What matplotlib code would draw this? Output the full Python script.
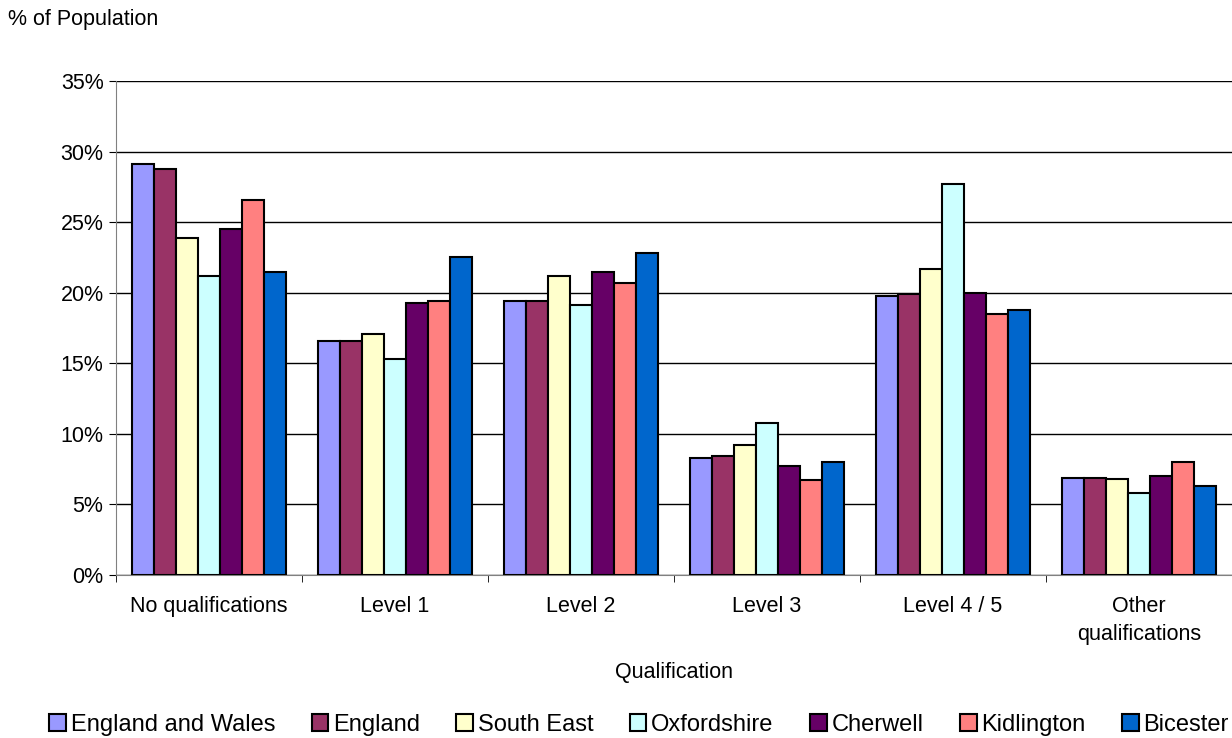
import numpy as np
import matplotlib
matplotlib.use('Agg')
from matplotlib import pyplot as plt
from matplotlib.ticker import FixedLocator, PercentFormatter

plt.rcParams['font.family'] = ['Liberation Sans', 'DejaVu Sans']

categories = ['No qualifications', 'Level 1', 'Level 2', 'Level 3', 'Level 4 / 5', 'Other\nqualifications']
areas = ['England and Wales', 'England', 'South East', 'Oxfordshire', 'Cherwell', 'Kidlington', 'Bicester']

england_wales = [29.1, 16.6, 19.4, 8.3, 19.8, 6.9]
england = [28.8, 16.6, 19.4, 8.4, 19.9, 6.9]
south_east = [23.9, 17.1, 21.2, 9.2, 21.7, 6.8]
oxfordshire = [21.2, 15.3, 19.1, 10.8, 27.7, 5.8]
cherwell = [24.5, 19.3, 21.5, 7.7, 20.0, 7.0]
kidlington = [26.6, 19.4, 20.7, 6.7, 18.5, 8.0]
bicester = [21.5, 22.5, 22.8, 8.0, 18.8, 6.3]

series = [england_wales, england, south_east, oxfordshire, cherwell, kidlington, bicester]
colors = ['#9999FF', '#993366', '#FFFFCC', '#CCFFFF', '#660066', '#FF8080', '#0066CC']

fig = plt.figure(figsize=(12.32, 7.38), dpi=100)
ax = fig.add_axes([116 / 1232, 1 - 575 / 738, 1 - 116 / 1232, (575 - 81) / 738])

x = np.arange(len(categories))
w = 0.1177
handles = []
for i, (vals, col) in enumerate(zip(series, colors)):
    b = ax.bar(x + (i - 3) * w, vals, w, color=col, edgecolor='black', linewidth=1.5,
               label=areas[i], zorder=3)
    handles.append(b)

ax.set_xlim(-0.5, len(categories) - 0.5)
ax.set_ylim(0, 35)
ax.set_yticks(np.arange(0, 36, 5))
ax.yaxis.set_major_formatter(PercentFormatter(decimals=0))
ax.yaxis.grid(True, color='black', linewidth=1.0, zorder=0)

ax.set_xticks(x)
ax.set_xticklabels(categories, linespacing=1.45)
ax.xaxis.set_minor_locator(FixedLocator(np.arange(-0.5, len(categories), 1.0)))
ax.tick_params(axis='x', which='major', length=0, pad=15, labelsize=15.5)
ax.tick_params(axis='x', which='minor', length=5, color='black')
ax.tick_params(axis='y', length=5, labelsize=15.5, pad=4)

for s in ['top', 'right']:
    ax.spines[s].set_visible(False)
ax.spines['left'].set_color('#808080')
ax.spines['bottom'].set_color('#808080')

ax.set_xlabel('Qualification', fontsize=15.5, labelpad=12)
fig.text(8 / 1232, 1 - 19 / 738, '% of Population', fontsize=15.5, va='center', ha='left')

fig.legend(handles=handles, loc='center', bbox_to_anchor=(639 / 1232, 1 - 725 / 738),
           ncol=7, frameon=False, fontsize=17, handlelength=0.7, handleheight=0.7,
           handletextpad=0.2, columnspacing=1.55, borderaxespad=0)

fig.savefig('out.png', dpi=100)
